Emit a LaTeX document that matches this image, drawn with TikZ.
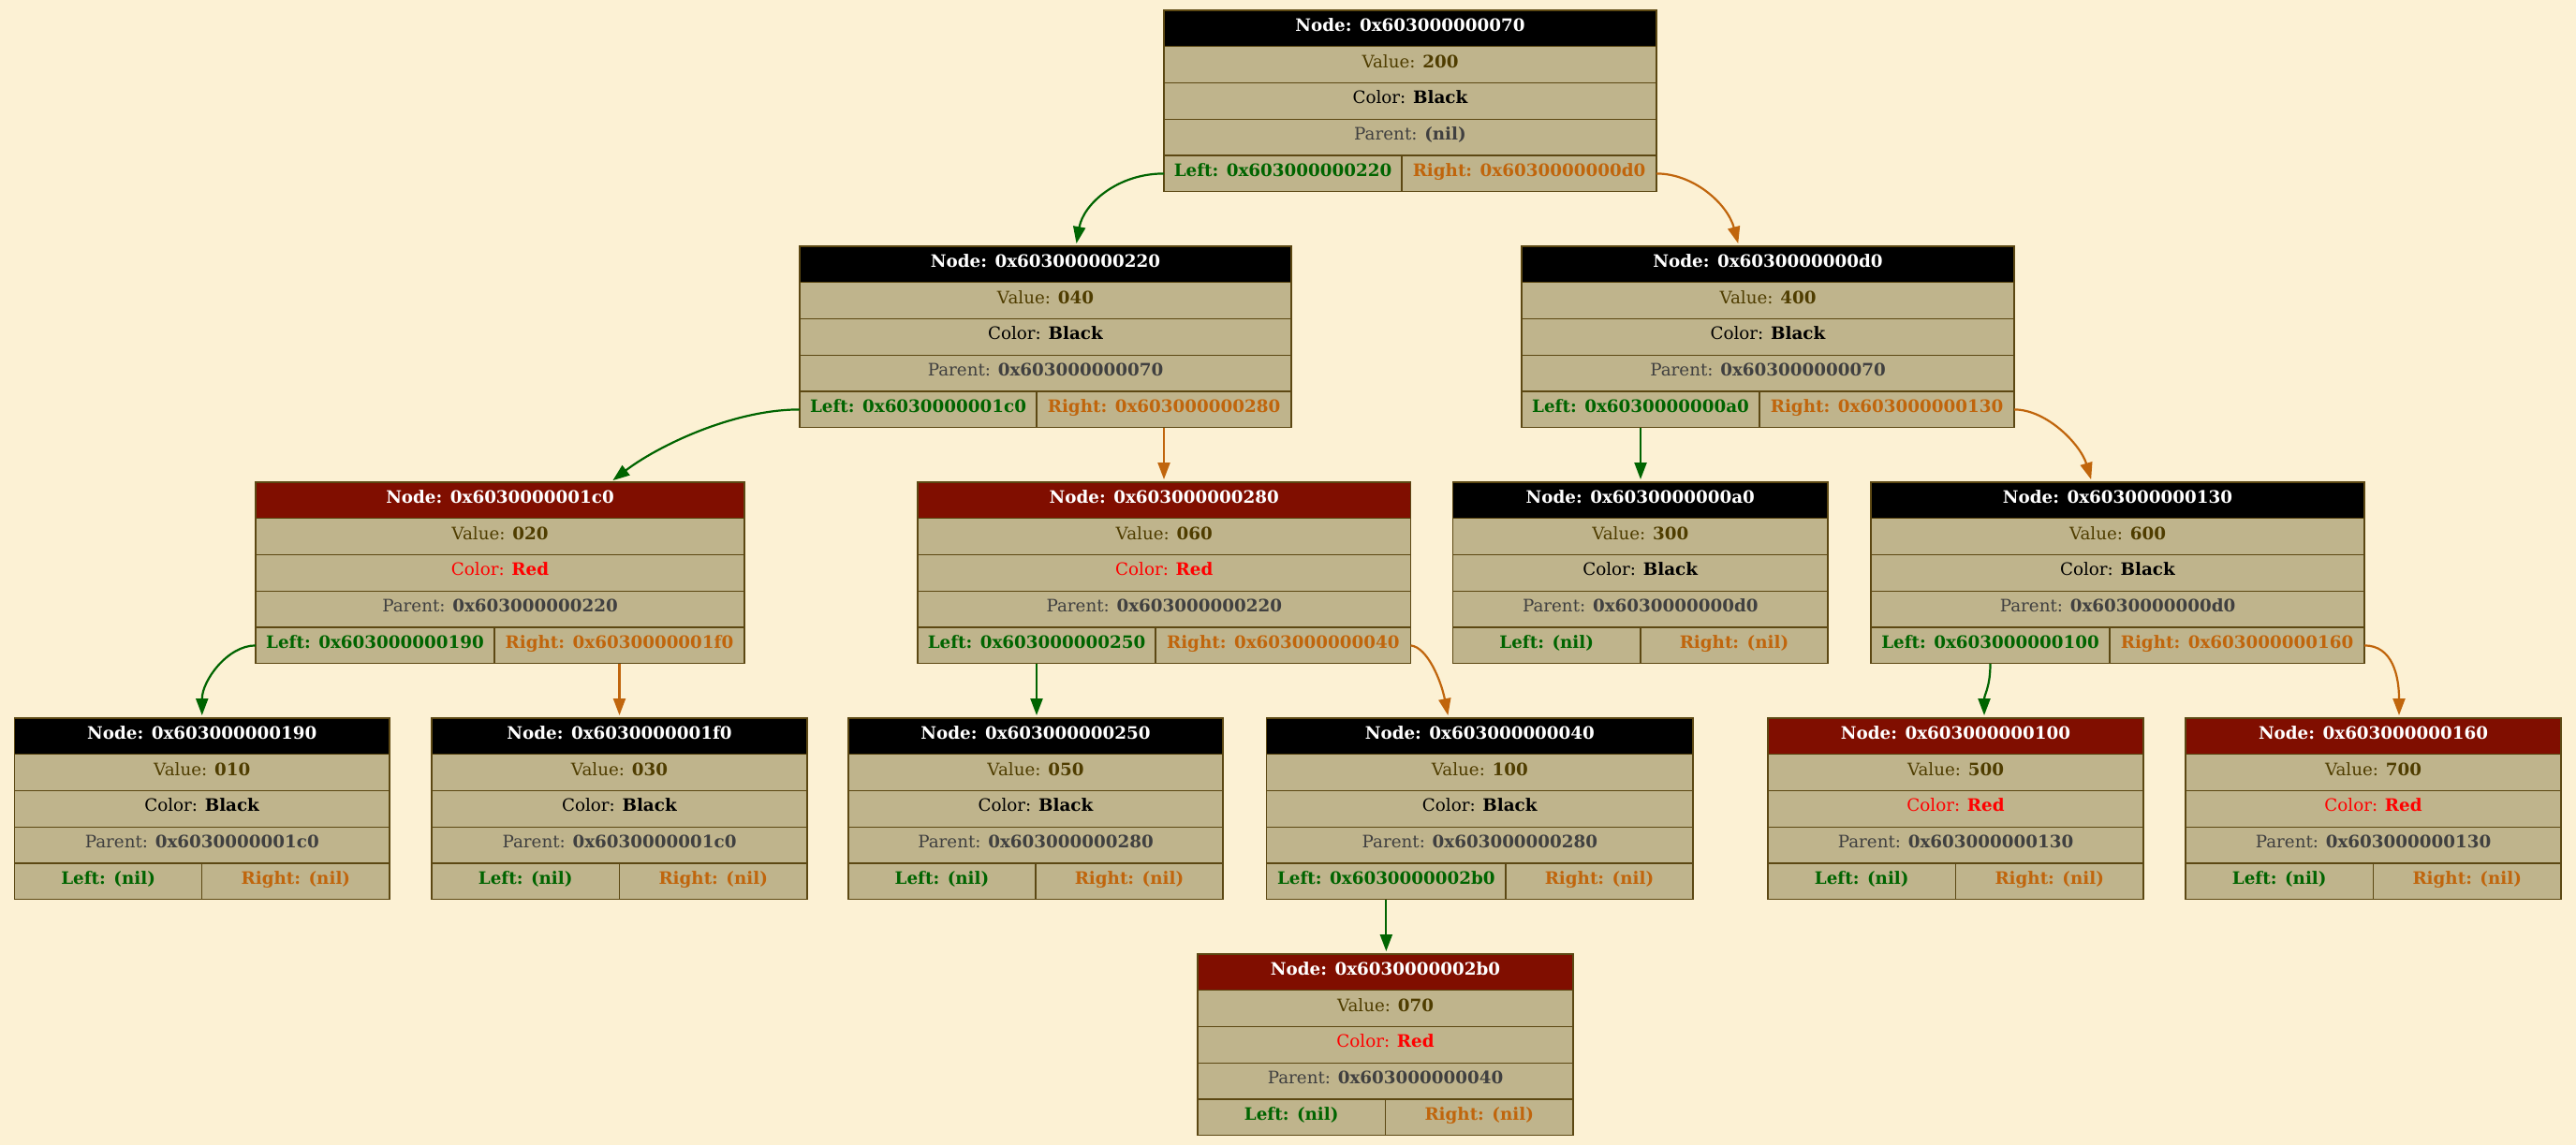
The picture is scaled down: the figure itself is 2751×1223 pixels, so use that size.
\documentclass[tikz,border=0pt]{standalone}
\usepackage{fontspec}
\setmainfont{DejaVu Serif}
\usetikzlibrary{arrows.meta}
\definecolor{bgcol}{HTML}{FCF1D4}
\definecolor{cellcol}{HTML}{BFB48C}
\definecolor{bordercol}{HTML}{5C4813}
\definecolor{hdrBlack}{HTML}{000000}
\definecolor{hdrRed}{HTML}{800E00}
\definecolor{colBlack}{HTML}{000000}
\definecolor{colRed}{HTML}{FF0000}
\definecolor{valcol}{HTML}{4F3D00}
\definecolor{parcol}{HTML}{404040}
\definecolor{leftcol}{HTML}{006400}
\definecolor{rightcol}{HTML}{C0650C}
\def\rh{38.75}
\tikzset{
  cellbase/.style={draw=bordercol, line width=0.65pt, inner sep=0pt, outer sep=0pt,
    minimum height=19.375pt, text height=6.7pt, text depth=3.6pt, align=center,
    font=\fontsize{9.15pt}{11pt}\selectfont},
  hdr/.style={cellbase, text=white, font=\fontsize{9.15pt}{11pt}\selectfont\bfseries},
  cell/.style={cellbase, fill=cellcol},
  lcell/.style={cell, text=leftcol, font=\fontsize{9.15pt}{11pt}\selectfont\bfseries},
  rcell/.style={cell, text=rightcol, font=\fontsize{9.15pt}{11pt}\selectfont\bfseries},
  ledge/.style={draw=leftcol, line width=1.1pt, -{Triangle[length=9pt,width=6.5pt]}, shorten >=1.5pt},
  redge/.style={draw=rightcol, line width=1.1pt, -{Triangle[length=9pt,width=6.5pt]}, shorten >=1.5pt}
}
% #1 name, #2 xl, #3 xr, #4 xd, #5 yt, #6 Black/Red, #7 addr, #8 value, #9 parent
\newcommand\rbnode[9]{%
  \def\rbname{#1}\def\rbxl{#2}\def\rbxr{#3}\def\rbxd{#4}\def\rbyt{#5}%
  \node[hdr, fill=hdr#6, minimum width={(#3-#2)*0.5pt}] (#1) at ({(#2+#3)/2},{#5+0.5*\rh}) {Node: #7};
  \node[cell, text=valcol, minimum width={(#3-#2)*0.5pt}] (#1-v) at ({(#2+#3)/2},{#5+1.5*\rh}) {Value: \textbf{#8}};
  \node[cell, text=col#6, minimum width={(#3-#2)*0.5pt}] (#1-c) at ({(#2+#3)/2},{#5+2.5*\rh}) {Color: \textbf{#6}};
  \node[cell, text=parcol, minimum width={(#3-#2)*0.5pt}] (#1-p) at ({(#2+#3)/2},{#5+3.5*\rh}) {Parent: \textbf{#9}};
}
\newcommand\rblr[2]{%
  \node[lcell, minimum width={(\rbxd-\rbxl)*0.5pt}] (\rbname-l) at ({(\rbxl+\rbxd)/2},{\rbyt+4.5*\rh}) {#1};
  \node[rcell, minimum width={(\rbxr-\rbxd)*0.5pt}] (\rbname-r) at ({(\rbxd+\rbxr)/2},{\rbyt+4.5*\rh}) {#2};
}
\begin{document}
\begin{tikzpicture}[x=0.5pt,y=-0.5pt]
\fill[bgcol] (0,0) rectangle (2751,1223);
\useasboundingbox (0,0) rectangle (2751,1223);

\rbnode{n070}{1243}{1769}{1497}{11}{Black}{0x603000000070}{200}{(nil)}
\rblr{Left: 0x603000000220}{Right: 0x6030000000d0}
\rbnode{n220}{854}{1379}{1107}{263}{Black}{0x603000000220}{040}{0x603000000070}
\rblr{Left: 0x6030000001c0}{Right: 0x603000000280}
\rbnode{nd0}{1625}{2151}{1879}{263}{Black}{0x6030000000d0}{400}{0x603000000070}
\rblr{Left: 0x6030000000a0}{Right: 0x603000000130}
\rbnode{n1c0}{273}{795}{528}{515}{Red}{0x6030000001c0}{020}{0x603000000220}
\rblr{Left: 0x603000000190}{Right: 0x6030000001f0}
\rbnode{n280}{980}{1506.5}{1234}{515}{Red}{0x603000000280}{060}{0x603000000220}
\rblr{Left: 0x603000000250}{Right: 0x603000000040}
\rbnode{na0}{1551.5}{1952}{1752}{515}{Black}{0x6030000000a0}{300}{0x6030000000d0}
\rblr{Left: (nil)}{Right: (nil)}
\rbnode{n130}{1998}{2525}{2253}{515}{Black}{0x603000000130}{600}{0x6030000000d0}
\rblr{Left: 0x603000000100}{Right: 0x603000000160}
\rbnode{n190}{15.5}{416}{215.75}{767}{Black}{0x603000000190}{010}{0x6030000001c0}
\rblr{Left: (nil)}{Right: (nil)}
\rbnode{n1f0}{461}{862}{661.5}{767}{Black}{0x6030000001f0}{030}{0x6030000001c0}
\rblr{Left: (nil)}{Right: (nil)}
\rbnode{n250}{906}{1306}{1106}{767}{Black}{0x603000000250}{050}{0x603000000280}
\rblr{Left: (nil)}{Right: (nil)}
\rbnode{n040}{1352.7}{1808}{1608}{767}{Black}{0x603000000040}{100}{0x603000000280}
\rblr{Left: 0x6030000002b0}{Right: (nil)}
\rbnode{n100}{1888}{2289}{2088.5}{767}{Red}{0x603000000100}{500}{0x603000000130}
\rblr{Left: (nil)}{Right: (nil)}
\rbnode{n160}{2334}{2735}{2534.5}{767}{Red}{0x603000000160}{700}{0x603000000130}
\rblr{Left: (nil)}{Right: (nil)}
\rbnode{n2b0}{1279}{1680}{1479.5}{1019}{Red}{0x6030000002b0}{070}{0x603000000040}
\rblr{Left: (nil)}{Right: (nil)}

% connectors
\draw[ledge] (n070-l.west) .. controls +(-50,0) and +(8,-45) .. ([xshift=16.25pt]n220.north);
\draw[redge] (n070-r.east) .. controls +(40,0) and +(-12,-45) .. ([xshift=-15.5pt]nd0.north);
\draw[ledge] (n220-l.west) .. controls +(-73,0) and +(48,-37) .. ([xshift=59pt]n1c0.north);
\draw[redge] (n220-r.south) -- (n220-r.south |- n280.north);
\draw[ledge] (nd0-l.south) -- (nd0-l.south |- na0.north);
\draw[redge] (nd0-r.east) .. controls +(35,0) and +(-12,-40) .. ([xshift=-13.75pt]n130.north);
\draw[ledge] (n1c0-l.west) .. controls +(-30,0) and +(0,-40) .. ([xshift=0pt]n190.north);
\draw[redge] (n1c0-r.south) -- (n1c0-r.south |- n1f0.north);
\draw[ledge] (n280-l.south) -- (n280-l.south |- n250.north);
\draw[redge] (n280-r.east) .. controls +(18,2) and +(-8,-40) .. ([xshift=-16.7pt]n040.north);
\draw[ledge] (n040-l.south) -- (n040-l.south |- n2b0.north);
\draw[ledge] (n130-l.south) .. controls +(0,25) and +(0,-25) .. ([xshift=15.25pt]n100.north);
\draw[redge] (n130-r.east) .. controls +(30,0) and +(0,-45) .. ([xshift=13.75pt]n160.north);
\end{tikzpicture}
\end{document}
